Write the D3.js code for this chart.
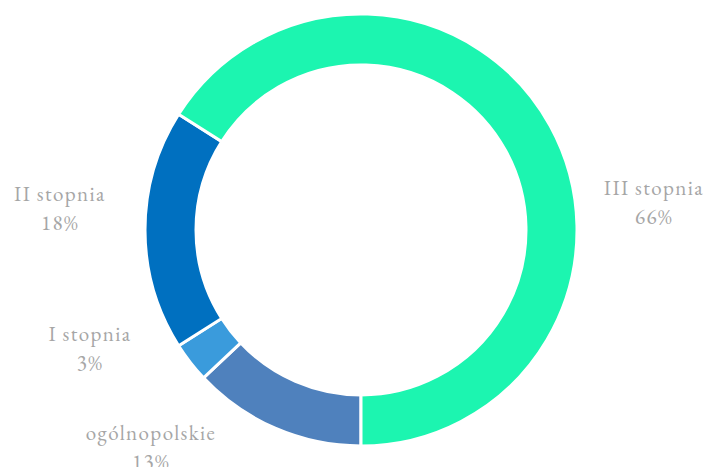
<!DOCTYPE html>
<html>
<head>
<meta charset="utf-8">
<script src="https://cdn.jsdelivr.net/npm/d3@7"></script>
<style>
  html, body { margin: 0; padding: 0; background: #fff; }
  svg { display: block; }
</style>
</head>
<body>
<svg id="chart" width="707" height="467"></svg>
<script>
// Data (clockwise from the bottom of the ring)
const categories = ["ogólnopolskie", "I stopnia", "II stopnia", "III stopnia"];
const values = [13, 3, 18, 66];
const percentLabels = ["13%", "3%", "18%", "66%"];
const colors = ["#4F81BD", "#3A9BDC", "#0070C0", "#1CF5B0"];

// Layout (label anchor points, not data)
const labelPos = [
  {x: 151, y: 440},
  {x: 90, y: 341},
  {x: 60, y: 201},
  {x: 654, y: 195}
];

const width = 707, height = 467;
const cx = 361, cy = 230;
const outerR = 216, innerR = 165;

const svg = d3.select("#chart");
const g = svg.append("g").attr("transform", `translate(${cx},${cy})`);

const pie = d3.pie().sort(null).value(d => d).startAngle(Math.PI).endAngle(3 * Math.PI);
const arc = d3.arc().innerRadius(innerR).outerRadius(outerR);

g.selectAll("path")
  .data(pie(values))
  .join("path")
  .attr("d", arc)
  .attr("fill", (d, i) => colors[i])
  .attr("stroke", "#fff")
  .attr("stroke-width", 3)
  .attr("stroke-linejoin", "miter");

const labels = svg.append("g")
  .attr("font-family", "'EB Garamond', Garamond, 'Liberation Serif', serif")
  .attr("font-size", 21)
  .attr("fill", "#A6A6A6")
  .attr("text-anchor", "middle");

categories.forEach((c, i) => {
  const t = labels.append("text")
    .attr("x", labelPos[i].x)
    .attr("y", labelPos[i].y)
    .style("letter-spacing", "1.4px");
  t.append("tspan").attr("x", labelPos[i].x).text(c);
  t.append("tspan").attr("x", labelPos[i].x).attr("dy", 29).text(percentLabels[i]);
});
</script>
</body>
</html>
